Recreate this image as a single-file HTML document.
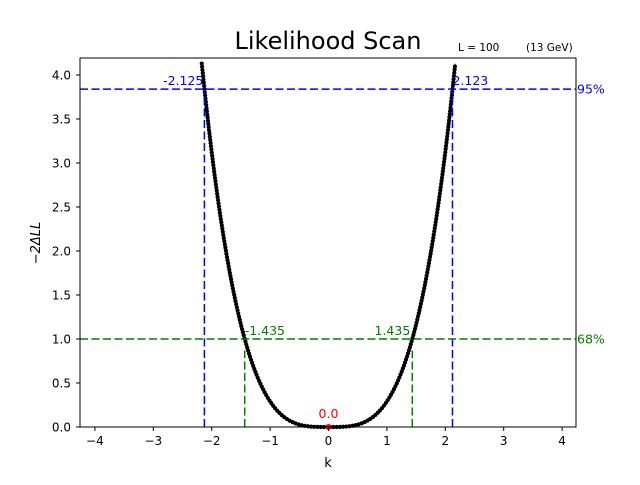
<!DOCTYPE html>
<html><head><meta charset="utf-8"><style>
body{margin:0;background:#fff;}
svg text{font-family:"DejaVu Sans","Liberation Sans",sans-serif;}
</style></head><body>
<svg id="chart" width="640" height="480" xmlns="http://www.w3.org/2000/svg">
<rect width="640" height="480" fill="#fff"/>
<g id="grid"></g>
<g id="marks"></g>
<rect x="80" y="58" width="496" height="369" fill="none" stroke="#000" stroke-width="1"/>
<g id="axes"></g>
<text x="328" y="49" font-size="24" text-anchor="middle">Likelihood Scan</text>
<text x="458" y="51" font-size="10.5">L = 100</text>
<text x="526" y="51" font-size="10.5">(13 GeV)</text>
<text x="328" y="467" font-size="13" text-anchor="middle">k</text>
<text transform="translate(40,243) rotate(-90)" font-size="13" text-anchor="middle" font-style="italic">−2ΔLL</text>
</svg>
<script>
const kValues=[0,0.05,0.1,0.15,0.2,0.25,0.3,0.35,0.4,0.45,0.5,0.55,0.6,0.65,0.7,0.75,0.8,0.85,0.9,0.95,1.0,1.05,1.1,1.15,1.2,1.25,1.3,1.35,1.4,1.45,1.5,1.55,1.6,1.65,1.7,1.75,1.8,1.85,1.9,1.95,2.0,2.05,2.1,2.15,2.17];
const nllValues=[0,0,0.0001,0.0004,0.0012,0.0025,0.0047,0.0079,0.0125,0.0187,0.0268,0.0373,0.0503,0.066,0.085,0.108,0.135,0.166,0.201,0.243,0.290,0.343,0.402,0.468,0.541,0.623,0.713,0.811,0.919,1.036,1.164,1.303,1.453,1.614,1.789,1.975,2.175,2.389,2.619,2.863,3.123,3.399,3.692,4.002,4.13];
const xTicks=[-4,-3,-2,-1,0,1,2,3,4];
const yTicks=[0,0.5,1.0,1.5,2.0,2.5,3.0,3.5,4.0];
const bestFit=[0.0];
const ci95=[-2.125,2.123];
const ci68=[-1.435,1.435];
const levels=[3.84,1.0];
const X=v=>328.5+v*58.4, Y=v=>427-v*88;
const NS='http://www.w3.org/2000/svg';
function mk(t,a,p){const e=document.createElementNS(NS,t);for(const k in a)e.setAttribute(k,a[k]);(p||document.getElementById('marks')).appendChild(e);return e;}
const axes=document.getElementById('axes');
xTicks.forEach(v=>{
 const l=mk('line',{x1:X(v),x2:X(v),y1:427,y2:431,stroke:'#000'},axes);
 
 
 const t=mk('text',{x:X(v),y:445,'font-size':12,'text-anchor':'middle'},axes);t.textContent=(v<0?'−':'')+Math.abs(v);
 
 
});
yTicks.forEach(v=>{
 const l=mk('line',{x1:76,x2:80,y1:Y(v),y2:Y(v),stroke:'#000'},axes);
 
 
 const t=mk('text',{x:71,y:Y(v)+4.5,'font-size':12,'text-anchor':'end'},axes);t.textContent=v.toFixed(1);
 
 
});
const pts=[];
for(let i=kValues.length-1;i>=1;i--)pts.push([-kValues[i],nllValues[i]]);
for(let i=0;i<kValues.length;i++)pts.push([kValues[i],nllValues[i]]);
const d='M'+pts.map(p=>X(p[0]).toFixed(2)+','+Y(p[1]).toFixed(2)).join('L');
const path=mk('path',{d:d,fill:'none',stroke:'#e08a1e','stroke-width':1.5});


const dots=mk('g',{fill:'#000'});


const L=path.getTotalLength();
for(let s=0;s<=L;s+=3.2){const p=path.getPointAtLength(s);mk('circle',{cx:p.x,cy:p.y,r:2.1},dots);}
const cols=['#0000ff','#008000'];
const names=['95','68'];
[ci95,ci68].forEach((ci,j)=>{
 const h=mk('line',{x1:80,x2:576,y1:Y(levels[j]),y2:Y(levels[j]),stroke:cols[j],'stroke-width':1.5,'stroke-dasharray':'8,3.5'});
 
 
 ci.forEach(v=>{
  const vl=mk('line',{x1:X(v),x2:X(v),y1:427,y2:Y(levels[j]*(j?0.87:1)),stroke:cols[j],'stroke-width':1.5,'stroke-dasharray':'8,3.5'});
  
  
  const t=mk('text',{x:v<0?(j?X(v):X(v)-1):(j?X(v)-2:X(v)),y:Y(levels[j])-4,'font-size':12.5,fill:cols[j],'text-anchor':v<0?(j?'start':'end'):(j?'end':'start')});
  t.textContent=(v<0?'-':'')+Math.abs(v).toFixed(3);
  
  
 });
 const t=mk('text',{x:577,y:Y(levels[j])+4.5,'font-size':12.5,fill:cols[j]});t.textContent=names[j]+'%';
 
 
});
bestFit.forEach(v=>{
 const c=mk('circle',{cx:X(v),cy:Y(0),r:3,fill:'#ff0000'});
 
 
 const t=mk('text',{x:X(v),y:418,'font-size':12.5,fill:'#ff0000','text-anchor':'middle'});t.textContent=v.toFixed(1);
 
 
});
</script>
</body></html>
